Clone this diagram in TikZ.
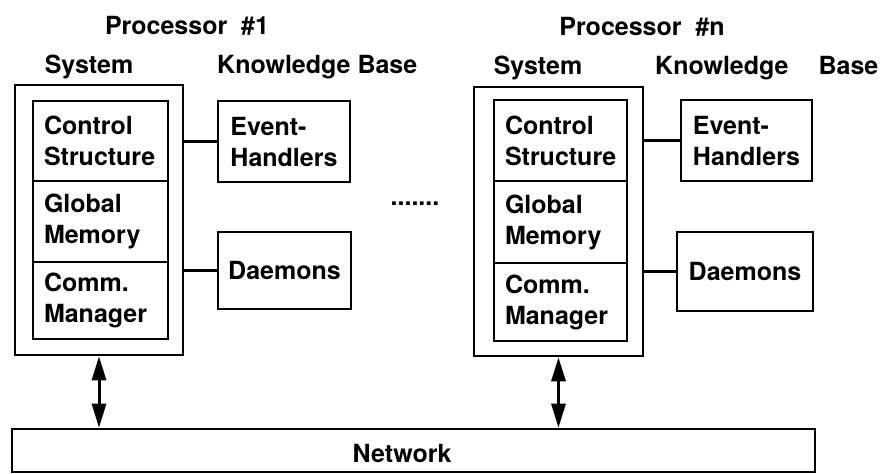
\documentclass[tikz,border=0pt]{standalone}
\usepackage{fontspec}
\setmainfont{TeX Gyre Heros}
\usetikzlibrary{arrows.meta}
\begin{document}
\begin{tikzpicture}[x=1pt,y=-1pt,
  every node/.style={font=\bfseries\fontsize{25}{31}\selectfont},
  box/.style={draw, line width=2.6pt, inner sep=0pt},
  comp/.style={box, minimum width=#1, text width=#1-22pt, inner xsep=10pt, align=left},
  kb/.style={box, align=left},
  link/.style={line width=2.6pt},
  bus/.style={line width=3pt},
  lbl/.style={inner sep=0pt, anchor=base}]
\useasboundingbox (0,0) rectangle (884,474);

% ---------- Processor #1 ----------
\node[lbl] (p1) at (187,34) {Processor \ \#1};
\node[lbl] (sys1) at (89,73) {System};
\node[lbl, anchor=base west] (kbl1) at (217,73) {Knowledge Base};
\node[box, minimum width=168pt, minimum height=270pt] (s1) at (99,220) {};
\node[comp=135pt, minimum height=80pt] (c1) at (100.5,141) {Control\\Structure};
\node[comp=135pt, minimum height=81pt] (g1) at (100.5,221.5) {Global\\Memory};
\node[comp=135pt, minimum height=77pt] (m1) at (100.5,300.5) {Comm.\\Manager};
\node[kb, minimum width=132pt, minimum height=81pt] (e1) at (284,141.5) {Event-\\Handlers};
\node[kb, minimum width=133pt, minimum height=77pt] (d1) at (284.5,270.5) {Daemons};
\draw[link] (s1.east |- e1) -- (e1.west);
\draw[link] (s1.east |- d1) -- (d1.west);

% ---------- dots ----------
\node[lbl] (dots) at (415,205) {.......};

% ---------- Processor #n ----------
\node[lbl] (pn) at (642,35) {Processor \ \#n};
\node[lbl] (sysn) at (538,74) {System};
\node[lbl, anchor=base west] (kbln) at (655,74) {Knowledge\hspace{30pt}Base};
\node[box, minimum width=169pt, minimum height=269pt] (sn) at (558.5,221.5) {};
\node[comp=133pt, minimum height=81pt] (cn) at (560.5,140.5) {Control\\Structure};
\node[comp=133pt, minimum height=82pt] (gn) at (560.5,222) {Global\\Memory};
\node[comp=133pt, minimum height=78pt] (mn) at (560.5,302) {Comm.\\Manager};
\node[kb, minimum width=131pt, minimum height=81pt] (en) at (746.5,140.5) {Event-\\Handlers};
\node[kb, minimum width=136pt, minimum height=79pt] (dn) at (745,271.5) {Daemons};
\draw[link] (sn.east |- en) -- (en.west);
\draw[link] (sn.east |- dn) -- (dn.west);

% ---------- Network ----------
\node[box, minimum width=803pt, minimum height=43pt] (net) at (413.5,450.5) {};
\node[lbl] (netl) at (402,462) {Network};
\draw[bus, {Triangle[length=24pt,width=14pt]}-{Triangle[length=24pt,width=14pt]}] (s1.south) -- (s1.south |- net.north);
\draw[bus, {Triangle[length=24pt,width=14pt]}-{Triangle[length=24pt,width=14pt]}] (sn.south) -- (sn.south |- net.north);
\end{tikzpicture}
\end{document}
